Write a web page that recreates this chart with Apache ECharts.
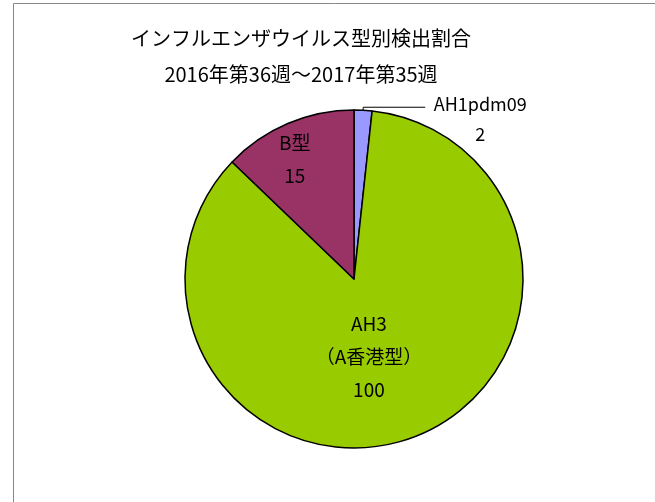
<!DOCTYPE html>
<html>
<head>
<meta charset="utf-8">
<title>インフルエンザウイルス型別検出割合</title>
<script src="https://cdn.jsdelivr.net/npm/echarts@6/dist/echarts.min.js"></script>
<style>
html,body{margin:0;padding:0;background:#fff;}
#chart{width:655px;height:502px;}
</style>
</head>
<body>
<div id="chart"></div>
<script>
var titleLines = ["インフルエンザウイルス型別検出割合", "2016年第36週～2017年第35週"] ;
var typeNames = ["AH1pdm09", "AH3\n（A香港型）", "B型"] ;
var typeCounts = [2, 100, 15] ;
var typeColors = ["#9999FF", "#99CC00", "#993366"] ;

var fontName = '"Noto Sans CJK JP", "Noto Sans", sans-serif' ;

function buildPieData(){
	var data = [] ;
	for(var i = 0; i < typeNames.length; i++){
		var item = {name:typeNames[i], value:typeCounts[i], itemStyle:{color:typeColors[i]}} ;
		if(i == 0){
			// 小さい扇形は外側にラベル
			item.label = {
				position:'outside',
				formatter:'{a|{b}}\n{a|{c}}',
				offset:[0, 12],
				rich:{a:{width:100, align:'center', fontSize:18, lineHeight:30, color:'#000', fontFamily:fontName}}
			} ;
			item.labelLine = {show:true, length:3, length2:62, lineStyle:{color:'#000', width:1}} ;
		} else if(i == 1){
			item.label = {position:'inside', offset:[-15, -4]} ;
		} else {
			item.label = {position:'inside', offset:[-25, -39]} ;
		}
		data.push(item) ;
	}
	return data ;
}

var chart = echarts.init(document.getElementById("chart"), null, {renderer:'canvas'}) ;
var option = {
	backgroundColor:'#fff',
	animation:false,
	title:{
		text:titleLines.join("\n"),
		left:296,
		top:15,
		textAlign:'center',
		textStyle:{fontSize:20, fontWeight:'normal', color:'#000', lineHeight:36, fontFamily:fontName}
	},
	graphic:[{
		type:'rect',
		shape:{x:13.5, y:3.5, width:700, height:600},
		style:{fill:null, stroke:'#888', lineWidth:1},
		silent:true
	}],
	series:[{
		name:'型別',
		type:'pie',
		center:[354, 279],
		radius:169,
		startAngle:90,
		clockwise:true,
		avoidLabelOverlap:false,
		itemStyle:{borderColor:'#000', borderWidth:1.5},
		label:{
			show:true,
			formatter:'{b}\n{c}',
			color:'#000',
			fontSize:19,
			lineHeight:33,
			fontFamily:fontName
		},
		labelLine:{show:false},
		emphasis:{disabled:true},
		data:buildPieData()
	}]
} ;
chart.setOption(option) ;
</script>
</body>
</html>
